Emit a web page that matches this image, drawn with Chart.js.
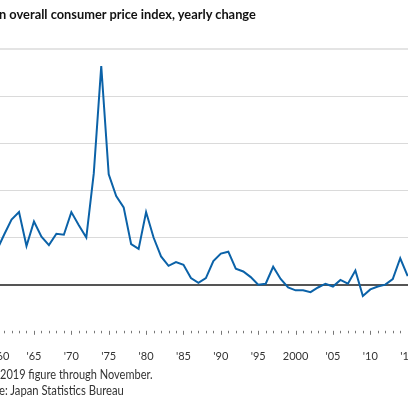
<!DOCTYPE html>
<html lang="en">
  <head>
    <meta charset="UTF-8" />
    <title>Japan consumer price index</title>
    <script src="https://cdn.jsdelivr.net/npm/chart.js@4"></script>
    <style>
      html, body { margin: 0; padding: 0; width: 408px; height: 408px; overflow: hidden; background: #fff; }
      .txt { position: absolute; white-space: nowrap; font-family: Lato, "Liberation Sans", sans-serif; color: #333; transform-origin: 0 0; }
      .cut { position: absolute; right: 100%; }
      #title { left: -1px; top: 6px; font-size: 13.5px; font-weight: bold; color: #111; transform: scaleX(0.95); }
      #note { left: 0px; top: 367px; font-size: 12.5px; transform: scaleX(0.88); }
      #source { left: -1px; top: 383px; font-size: 12.5px; transform: scaleX(0.9); }
      #myChart { position: absolute; left: -20px; top: 0; }
    </style>
  </head>
  <body>
    <canvas id="myChart" width="480" height="408"></canvas>
    <div class="txt" id="title"><span class="cut">Japa</span>n overall consumer price index, yearly change</div>
    <div class="txt" id="note"><span class="cut">Note: </span>2019 figure through November.</div>
    <div class="txt" id="source"><span class="cut">Sourc</span>e: Japan Statistics Bureau</div>
    <script>
      // yearly change in % (visible part ends in 2015)
      const years = [
        1960, 1961, 1962, 1963, 1964, 1965, 1966, 1967, 1968, 1969,
        1970, 1971, 1972, 1973, 1974, 1975, 1976, 1977, 1978, 1979,
        1980, 1981, 1982, 1983, 1984, 1985, 1986, 1987, 1988, 1989,
        1990, 1991, 1992, 1993, 1994, 1995, 1996, 1997, 1998, 1999,
        2000, 2001, 2002, 2003, 2004, 2005, 2006, 2007, 2008, 2009,
        2010, 2011, 2012, 2013, 2014, 2015
      ];
      const cpiChange = [
        3.6, 5.3, 6.9, 7.7, 4.1, 6.7, 5.1, 4.2, 5.4, 5.3,
        7.7, 6.3, 5.0, 11.8, 23.2, 11.7, 9.4, 8.2, 4.3, 3.8,
        7.7, 5.0, 3.0, 2.0, 2.4, 2.1, 0.7, 0.2, 0.7, 2.5,
        3.3, 3.5, 1.7, 1.4, 0.8, 0.0, 0.1, 1.9, 0.6, -0.3,
        -0.6, -0.6, -0.8, -0.3, 0.1, -0.2, 0.5, 0.1, 1.5, -1.2,
        -0.5, -0.2, 0.0, 0.6, 2.8, 0.9
      ];
      const tickYears = [1960, 1965, 1970, 1975, 1980, 1985, 1990, 1995, 2000, 2005, 2010, 2015];
      const tickLabels = ['1960', "'65", "'70", "'75", "'80", "'85", "'90", "'95", '2000', "'05", "'10", "'15"];
      const yTicks = [-5, 0, 5, 10, 15, 20, 25];

      // year tick marks under the plot, longer every five years
      const yearTicks = {
        id: 'yearTicks',
        afterDraw(chart) {
          const ctx = chart.ctx;
          const x = chart.scales.x;
          const bottom = chart.chartArea.bottom;
          ctx.save();
          ctx.strokeStyle = '#777';
          ctx.lineWidth = 1;
          for (let yr = 1960; yr <= 2019; yr++) {
            const px = Math.round(x.getPixelForValue(yr)) + 0.5;
            const len = yr % 5 === 0 ? 4 : 2.5;
            ctx.beginPath();
            ctx.moveTo(px, bottom - 1);
            ctx.lineTo(px, bottom - 1 + len);
            ctx.stroke();
          }
          ctx.restore();
        }
      };

      const ctx = document.getElementById('myChart').getContext('2d');
      const myChart = new Chart(ctx, {
        type: 'line',
        data: {
          datasets: [{
            data: years.map((y, i) => ({ x: y, y: cpiChange[i] })),
            borderColor: '#0b62a8',
            borderWidth: 2,
            pointRadius: 0,
            tension: 0,
            fill: false
          }]
        },
        options: {
          responsive: false,
          animation: false,
          layout: { padding: { left: 16.6, right: 22.4, top: 49, bottom: 27 } },
          plugins: { legend: { display: false }, tooltip: { enabled: false } },
          scales: {
            x: {
              type: 'linear',
              min: 1960,
              max: 2019,
              afterBuildTicks: axis => { axis.ticks = tickYears.map(v => ({ value: v })); },
              afterFit: axis => { axis.paddingLeft = 0; axis.paddingRight = 0; },
              grid: { display: false, drawTicks: false },
              border: { display: false },
              ticks: {
                autoSkip: false,
                maxRotation: 0,
                padding: 18,
                color: '#333',
                font: { family: 'Lato, sans-serif', size: 11 },
                callback: (v, i) => tickLabels[i]
              }
            },
            y: {
              min: -5,
              max: 25,
              afterBuildTicks: axis => { axis.ticks = yTicks.map(v => ({ value: v })); },
              afterFit: axis => { axis.width = 0; },
              ticks: { display: false },
              border: { display: false },
              grid: {
                drawTicks: false,
                color: c => c.tick.value === 0 ? '#555' : c.tick.value === -5 ? 'rgba(0,0,0,0)' : c.tick.value === 25 ? '#e4e4e4' : '#dadada',
                lineWidth: c => c.tick.value === 0 || c.tick.value === 25 ? 2 : 1
              }
            }
          }
        },
        plugins: [yearTicks]
      });
    </script>
  </body>
</html>
